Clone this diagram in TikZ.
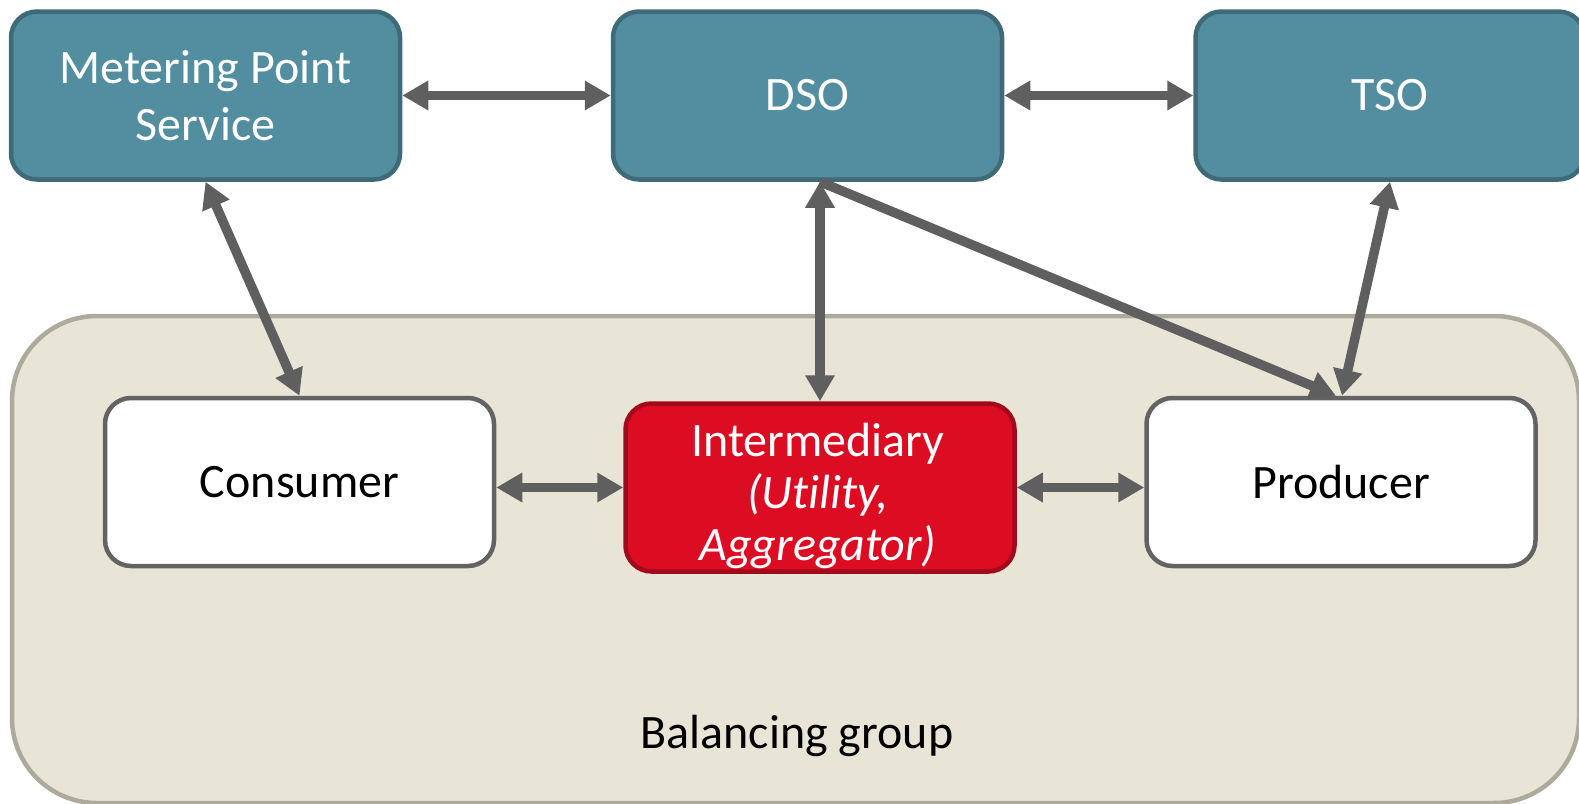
\documentclass[tikz,border=0pt]{standalone}
\usepackage{fontspec}
\setmainfont{Carlito}[Ligatures=NoCommon]
\usetikzlibrary{arrows.meta}

\definecolor{opfill}{HTML}{528E9F}
\definecolor{opedge}{HTML}{3E6B77}
\definecolor{redfill}{HTML}{DC0C23}
\definecolor{rededge}{HTML}{A00A1A}
\definecolor{linkgray}{HTML}{5F5F5F}
\definecolor{boxedge}{HTML}{636363}
\definecolor{groupfill}{HTML}{E8E5D7}
\definecolor{groupedge}{HTML}{ADAA9D}

\begin{document}
\begin{tikzpicture}[x=1pt,y=-1pt,
  basebox/.style={line width=4.5pt, rounded corners=26pt, minimum width=389pt,
    minimum height=168pt, align=center, inner sep=0pt,
    font=\fontsize{48}{57}\selectfont},
  opbox/.style={basebox, draw=opedge, fill=opfill, text=white},
  rolebox/.style={basebox, draw=boxedge, fill=white, text=black},
  midbox/.style={basebox, draw=rededge, fill=redfill},
  midtext/.style={align=center, inner sep=0pt, text=white,
    font=\fontsize{48}{52}\selectfont},
  groupbox/.style={draw=groupedge, fill=groupfill, line width=4.5pt,
    rounded corners=85pt, inner sep=0pt},
  link/.style={draw=linkgray, line width=9.5pt, {Triangle[length=26pt,width=28pt]}-{Triangle[length=26pt,width=28pt]}},
  onelink/.style={draw=linkgray, line width=9.5pt, -{Triangle[length=26pt,width=28pt]}}
]
\useasboundingbox (0,0) rectangle (1579,803);
\clip (0,0) rectangle (1579,803);

% balancing group background
\node[groupbox, minimum width=1567pt, minimum height=487pt] (bg) at (795.5,559.5) {};
\node[font=\fontsize{48}{56}\selectfont] (bglabel) at (797,736) {Balancing group};

% market roles
\node[opbox] (mps) at (205.5,95.5) {Metering Point\\Service};
\node[opbox] (dso) at (807.5,95.5) {DSO};
\node[opbox] (tso) at (1390,95.5) {TSO};
\node[rolebox] (cons) at (299.5,482) {Consumer};
\node[midbox] (inter) at (820,487.5) {};
\node[midtext] (intertext) at (818,496) {Intermediary\\\textit{(Utility,}\\\textit{Aggregator)}};
\node[rolebox] (prod) at (1341,482) {Producer};

% information flows
\draw[link] (mps.east) -- (dso.west);
\draw[link] (dso.east) -- (tso.west);
\draw[link] (mps.south) -- (cons.north);
\draw[link] (inter.north |- dso.south) -- (inter.north);
\draw[onelink] (inter.north |- dso.south) -- ([xshift=-5pt]prod.north);
\draw[link] (tso.south) -- ([xshift=1pt]prod.north);
\draw[link] (cons.east |- inter.west) -- (inter.west);
\draw[link] (inter.east) -- (prod.west |- inter.east);
\end{tikzpicture}
\end{document}
